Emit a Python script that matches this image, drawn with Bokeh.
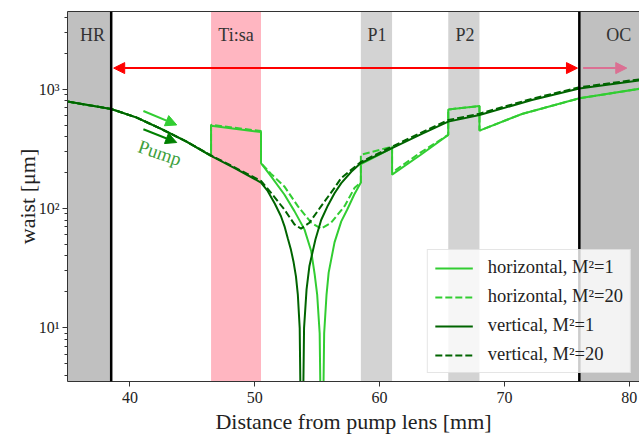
from bokeh.plotting import figure
from bokeh.models import (Range1d, FixedTicker, BoxAnnotation, Span, Arrow, NormalHead,
                          Legend, LegendItem, ColumnDataSource, LinearAxis, CustomJSTickFormatter)
from bokeh.core.properties import value
from bokeh.embed import file_html
from bokeh.resources import INLINE

# ---------------- data ----------------
element_names = ["HR", "Ti:sa", "P1", "P2", "OC"]
element_start = [35.0, 46.5, 58.5, 65.5, 76.0]
element_end = [38.5, 50.5, 61.0, 68.0, 81.0]
element_label_x = [37.0, 48.5, 59.8, 66.85, 79.15]
mirror_positions = [38.5, 76.0]

# vertical, M^2 = 1
v1_x = [35.0, 38.5, 40.5, 42.5, 44.5, 46.5, 48.5, 50.5, 51.0, 51.6, 52.1, 52.4, 52.65, 52.9,
        53.1, 53.3, 53.45, 53.6, 53.77,
        53.95, 54.15, 54.38, 54.86, 55.32, 55.86, 56.39, 56.93, 57.73, 58.5, 61.0, 63.3, 65.5,
        68.0, 72.2, 76.0, 81.0]
v1_w = [787, 681, 580, 464, 365, 276, 215, 165, 142, 110, 86, 70, 56, 45,
        36, 27, 19, 10, 0.3,
        10, 21, 33, 55, 80, 106, 134, 163, 203, 240, 320, 417, 534,
        607, 810, 1013, 1189]

# vertical, M^2 = 20
v20_x = [35.0, 38.5, 40.5, 42.5, 44.5, 46.5, 48.5, 50.5, 51.31, 52.37, 53.18, 53.71, 54.38,
         55.32, 56.39, 56.93, 57.73, 58.5, 61.0, 63.3, 65.5, 68.0, 72.2, 76.0, 81.0]
v20_w = [787, 681, 580, 464, 365, 278, 218, 170, 135, 98, 73.6, 67.7, 76,
         104.5, 149, 180, 211, 245, 330, 430, 550, 622, 830, 1035, 1215]

# horizontal, M^2 = 1
h1_x = [35.0, 38.5, 40.5, 42.5, 44.5, 46.5, 46.5, 50.5, 50.5, 51.31, 52.37, 53.18, 53.98,
        54.52, 54.8, 55.0, 55.2, 55.38, 55.56, 55.75, 55.92, 56.39, 56.93, 57.41, 57.97,
        58.5, 58.5, 61.0, 61.0, 63.3, 65.5, 65.5, 68.0, 68.0, 71.4, 76.0, 81.0]
h1_w = [787, 681, 580, 464, 365, 276, 494, 437, 240, 186, 131, 95, 66.8,
        44, 28, 19, 9, 0.3, 9, 19, 29, 52, 78, 98, 131,
        165, 235, 320, 192, 282, 414, 675, 722, 449, 619, 837, 1013]

# horizontal, M^2 = 20
h20_x = [35.0, 38.5, 40.5, 42.5, 44.5, 46.5, 46.5, 50.5, 50.5, 51.31, 52.37, 53.45, 54.52,
         55.32, 56.12, 57.19, 58.0, 58.5, 58.5, 61.0, 61.0, 63.3, 65.5, 65.5, 68.0, 68.0,
         71.4, 76.0, 81.0]
h20_w = [787, 681, 580, 464, 365, 276, 502, 445, 240, 195, 153, 104.5, 76,
         67.7, 76, 104.5, 149, 165, 282, 330, 200, 295, 414, 675, 722, 449,
         619, 837, 1013]

x_ticks = [40, 50, 60, 70, 80]
y_ticks = [10, 100, 1000]

# ---------------- styles ----------------
FONT = "Liberation Serif"
LIGHT = "#32CD32"
DARK = "#006400"
element_colors = ["#C0C0C0", "#FFB6C1", "#D3D3D3", "#D3D3D3", "#C0C0C0"]

p = figure(width=639, height=436, x_range=Range1d(35, 80.82), y_range=Range1d(3.55, 4470),
           y_axis_type="log", output_backend="svg", toolbar_location=None,
           min_border_left=67, min_border_right=0, min_border_top=11, min_border_bottom=53)
p.grid.visible = False
p.outline_line_color = None
p.background_fill_color = "white"

for s, e, c in zip(element_start, element_end, element_colors):
    p.add_layout(BoxAnnotation(left=s, right=e, fill_color=c, fill_alpha=1.0,
                               line_color=None, level="underlay"))

lbl_src = ColumnDataSource(dict(x=element_label_x, y=[2818] * len(element_names), t=element_names))
p.text(x="x", y="y", text="t", source=lbl_src, text_font=value(FONT), text_font_size="18px",
       text_color="#333333", text_align="center", text_baseline="middle")

r_h1 = p.line(h1_x, h1_w, line_color=LIGHT, line_width=2)
r_h20 = p.line(h20_x, h20_w, line_color=LIGHT, line_width=2, line_dash="7 3")
r_v1 = p.line(v1_x, v1_w, line_color=DARK, line_width=2)
r_v20 = p.line(v20_x, v20_w, line_color=DARK, line_width=2, line_dash="7 3")

legend = Legend(items=[LegendItem(label="horizontal, M²=1", renderers=[r_h1]),
                       LegendItem(label="horizontal, M²=20", renderers=[r_h20]),
                       LegendItem(label="vertical, M²=1", renderers=[r_v1]),
                       LegendItem(label="vertical, M²=20", renderers=[r_v20])],
                location="bottom_right", margin=8, padding=7, spacing=8,
                label_height=20, glyph_height=20, glyph_width=38, label_standoff=15,
                label_text_font=FONT, label_text_font_size="18.5px", label_text_color="#222222",
                background_fill_color="white", background_fill_alpha=0.8,
                border_line_color="#cccccc", border_line_width=1)
p.add_layout(legend)

for m in mirror_positions:
    p.add_layout(Span(location=m, dimension="height", line_color="black", line_width=2.5))

# cavity arrows
p.add_layout(Arrow(start=NormalHead(size=11, fill_color="red", line_color="red"),
                   end=NormalHead(size=11, fill_color="red", line_color="red"),
                   x_start=38.7, y_start=1500, x_end=75.85, y_end=1500,
                   line_color="red", line_width=2))
p.add_layout(Arrow(end=NormalHead(size=11, fill_color="#DB7093", line_color="#DB7093"),
                   x_start=76.3, y_start=1500, x_end=79.8, y_end=1500,
                   line_color="#DB7093", line_width=2))
# pump arrows
p.add_layout(Arrow(end=NormalHead(size=11, fill_color=LIGHT, line_color=LIGHT),
                   x_start=41.08, y_start=656, x_end=43.75, y_end=501,
                   line_color=LIGHT, line_width=2))
p.add_layout(Arrow(end=NormalHead(size=11, fill_color="#008000", line_color="#008000"),
                   x_start=41.08, y_start=461, x_end=43.75, y_end=357,
                   line_color="#008000", line_width=2))
p.text(x=[42.39], y=[293], text=["Pump"], angle=-0.33, text_font=value(FONT),
       text_font_size="19px", text_color="#3CA03C", text_align="center", text_baseline="middle")

# axes
p.xaxis.ticker = FixedTicker(ticks=x_ticks, minor_ticks=[])
minor = [k * 10 ** e for e in range(0, 4) for k in range(2, 10)]
p.yaxis.ticker = FixedTicker(ticks=y_ticks, minor_ticks=minor)
p.yaxis.formatter = CustomJSTickFormatter(code="""
const e = Math.round(Math.log10(tick));
const sup = {'0':'\u2070','1':'\u00b9','2':'\u00b2','3':'\u00b3','4':'\u2074','-':'\u207b'};
return '10' + String(e).split('').map(c => sup[c]).join('');
""")
for ax in [p.xaxis[0], p.yaxis[0]]:
    ax.major_tick_out = 5
    ax.major_tick_in = 0
    ax.minor_tick_out = 3
    ax.minor_tick_in = 0
    ax.axis_line_color = "#333333"
    ax.major_tick_line_color = "#333333"
    ax.minor_tick_line_color = "#333333"
    ax.major_label_text_font = FONT
    ax.major_label_text_font_size = "16px"
    ax.major_label_text_color = "#222222"
    ax.axis_label_text_font = FONT
    ax.axis_label_text_font_size = "22px"
    ax.axis_label_text_font_style = "normal"
    ax.axis_label_text_color = "#222222"
p.xaxis.axis_label = "Distance from pump lens [mm]"
p.yaxis.axis_label = "waist [μm]"
p.xaxis.major_label_standoff = 5
p.xaxis.axis_label_standoff = 3
p.yaxis.major_label_standoff = 3
p.yaxis.axis_label_standoff = -4

top = LinearAxis(ticker=FixedTicker(ticks=[]), major_tick_out=0, major_tick_in=0,
                 minor_tick_out=0, minor_tick_in=0, major_label_text_font_size="0px",
                 major_label_standoff=0, axis_line_color="#333333")
p.add_layout(top, "above")

open("out.html", "w").write(file_html(p, INLINE))
